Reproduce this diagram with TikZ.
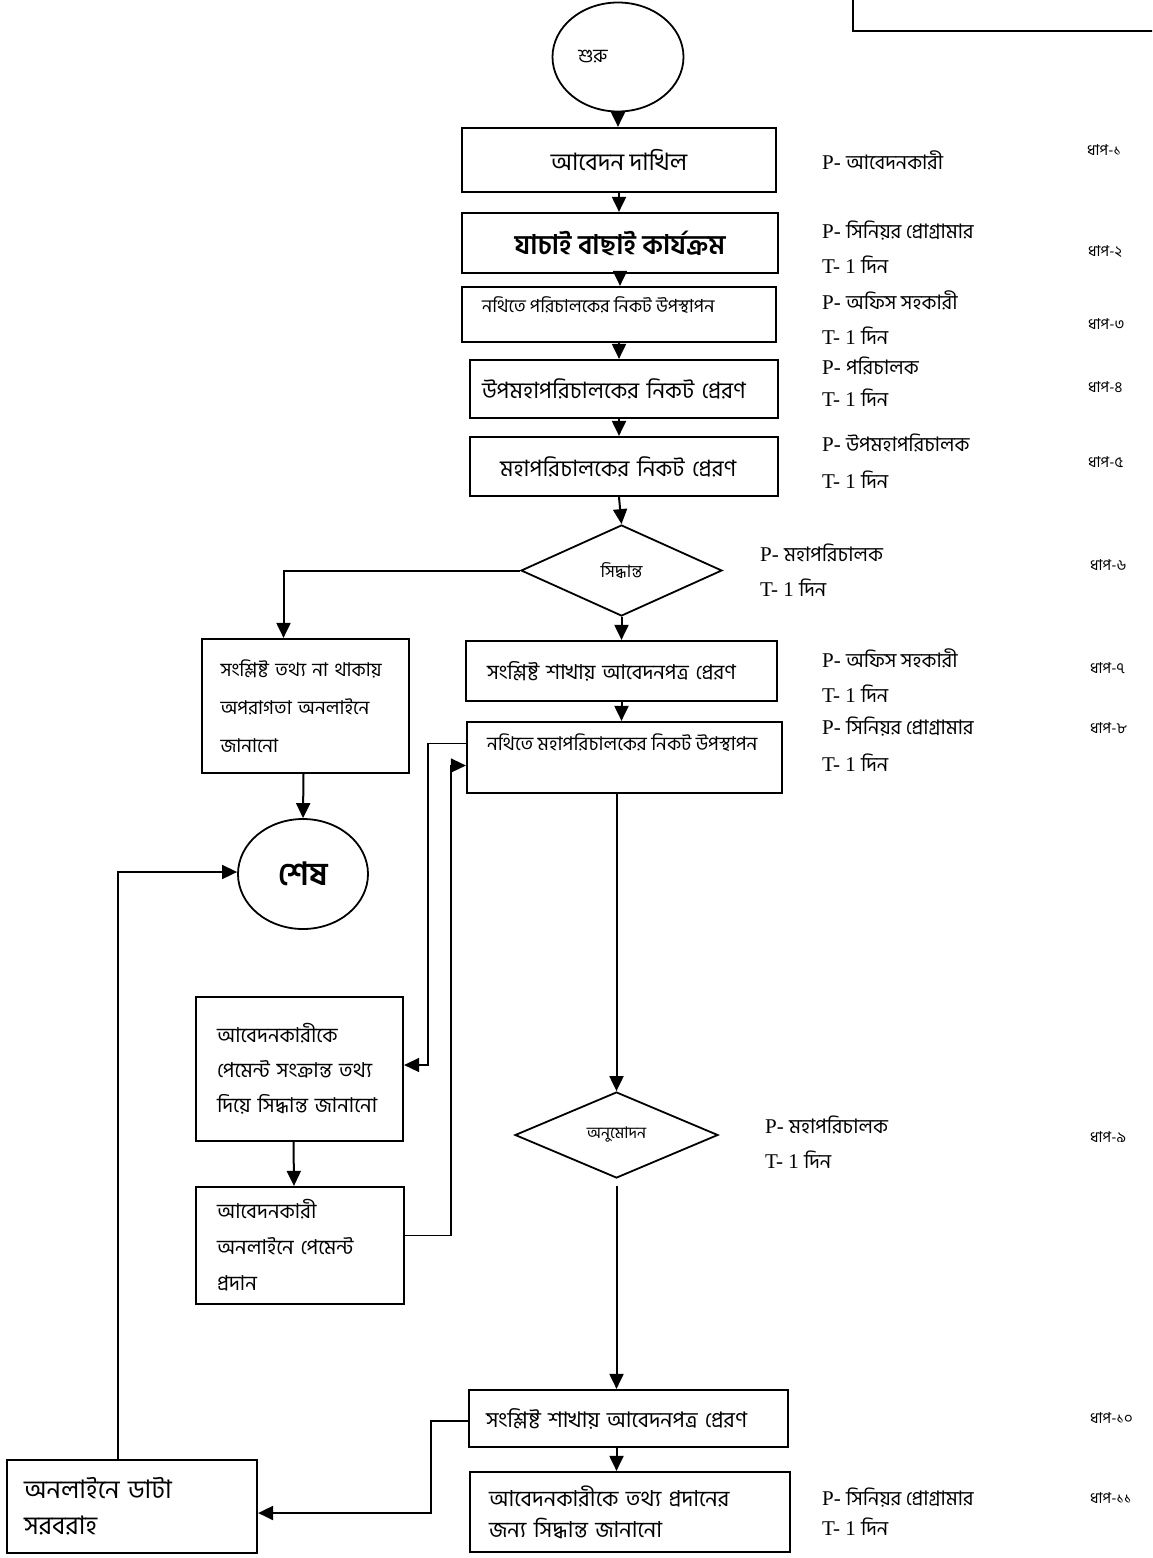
\documentclass[tikz,border=0pt]{standalone}
\usepackage{fontspec}
\setmainfont{Liberation Serif}
\newfontfamily\bn[Script=Bengali]{Hind Siliguri}
\usetikzlibrary{positioning}
\usetikzlibrary{shapes.geometric}
\usetikzlibrary{arrows.meta}

\newcommand{\rolename}[1]{{\bn\fontsize{20}{22}\selectfont #1}}

\begin{document}
\begin{tikzpicture}
[x=1pt,y=-1pt,
 box/.style={shape=rectangle,draw,line width=2.2pt,inner sep=0pt},
 ring/.style={shape=ellipse,draw,line width=1.8pt,inner sep=0pt},
 choice/.style={shape=diamond,draw,line width=1.8pt,inner sep=0pt},
 flow/.style={line width=2pt,-{Triangle[length=15pt,width=14pt]}},
 wire/.style={line width=1.6pt},
 txt/.style={inner sep=0pt,anchor=west},
 who/.style={inner sep=0pt,anchor=west,font=\fontsize{21}{23}\selectfont},
 stage/.style={inner sep=0pt,anchor=west,font=\bn\fontsize{15}{17}\selectfont}]

\path[use as bounding box] (0,0) rectangle (1152,1558);
\clip (0,0) rectangle (1152,1558);

% note box, cut at the page edge
\node (note) [box,minimum width=330,minimum height=60] at (1018,1) {};

% main column
\node (start) [ring,minimum width=131,minimum height=109] at (618,57) {};
\node (start-t) [inner sep=0pt,font=\bn\fontsize{19}{21}\selectfont] at (593,57) {শুরু};

\node (apply) [box,minimum width=314,minimum height=64,font=\bn\fontsize{24}{26}\selectfont]
	at (619,160) {আবেদন দাখিল};
\node (screen) [box,minimum width=316,minimum height=60,font=\bn\bfseries\fontsize{27}{29}\selectfont]
	at (620,243) {যাচাই বাছাই কার্যক্রম};
\node (present) [box,minimum width=314,minimum height=55] at (619,314.5) {};
\node (present-t) [txt,font=\bn\fontsize{18}{20}\selectfont] at (482,305) {নথিতে পরিচালকের নিকট উপস্থাপন};
\node (fwdddg) [box,minimum width=308,minimum height=58,inner xsep=12,text width=284,align=left,
	font=\bn\fontsize{22.5}{24}\selectfont]
	at (624,389) {উপমহাপরিচালকের নিকট প্রেরণ};
\node (fwddg) [box,minimum width=308,minimum height=59,inner xsep=30,text width=248,align=left,
	font=\bn\fontsize{22.5}{24}\selectfont]
	at (624,466.5) {মহাপরিচালকের নিকট প্রেরণ};
\node (decide) [choice,minimum width=201,minimum height=91,font=\bn\fontsize{17}{19}\selectfont]
	at (621.5,570.5) {সিদ্ধান্ত};
\node (branch) [box,minimum width=311,minimum height=60,inner xsep=21,text width=269,align=left,
	font=\bn\fontsize{20.5}{23}\selectfont]
	at (621.5,671) {সংশ্লিষ্ট শাখায় আবেদনপত্র প্রেরণ};
\node (present2) [box,minimum width=315,minimum height=71] at (624.5,757.5) {};
\node (present2-t) [txt,font=\bn\fontsize{19}{21}\selectfont] at (487,743) {নথিতে মহাপরিচালকের নিকট উপস্থাপন};
\node (approve) [choice,minimum width=203,minimum height=86,font=\bn\fontsize{16}{18}\selectfont]
	at (616.5,1135) {অনুমোদন};
\node (branch2) [box,minimum width=319,minimum height=57,inner xsep=17,text width=285,align=left,
	font=\bn\fontsize{21.5}{23}\selectfont]
	at (628.5,1418.5) {সংশ্লিষ্ট শাখায় আবেদনপত্র প্রেরণ};
\node (answer) [box,minimum width=320,minimum height=80,inner xsep=19,text width=282,align=left,
	font=\bn\fontsize{22}{31}\selectfont]
	at (630,1512) {আবেদনকারীকে তথ্য প্রদানের\\জন্য সিদ্ধান্ত জানানো};

% left column
\node (noinfo) [box,minimum width=207,minimum height=134,inner xsep=18.5,text width=170,align=left,
	font=\bn\fontsize{19}{38}\selectfont]
	at (305.5,706) {সংশ্লিষ্ট তথ্য না থাকায়\\অপরাগতা অনলাইনে\\জানানো};
\node (finish) [ring,minimum width=130,minimum height=110,font=\bn\bfseries\fontsize{32}{34}\selectfont]
	at (303,874) {শেষ};
\node (payinfo) [box,minimum width=207,minimum height=144,inner xsep=21,text width=165,align=left,
	font=\bn\fontsize{20.5}{35}\selectfont]
	at (299.5,1069) {আবেদনকারীকে\\পেমেন্ট সংক্রান্ত তথ্য\\দিয়ে সিদ্ধান্ত জানানো};
\node (paid) [box,minimum width=208,minimum height=117,inner xsep=21,text width=166,align=left,
	font=\bn\fontsize{20.5}{36}\selectfont]
	at (300,1245.5) {আবেদনকারী\\অনলাইনে পেমেন্ট\\প্রদান};
\node (supply) [box,minimum width=250,minimum height=93,inner xsep=17,text width=216,align=left,
	font=\bn\fontsize{25.5}{36}\selectfont]
	at (132,1506.5) {অনলাইনে ডাটা\\সরবরাহ};

% who does it, how long, which step
\node (p1) [who] at (822,160) {P- \rolename{আবেদনকারী}};
\node (s1) [stage] at (1087,150) {ধাপ-১};
\node (p2) [who] at (822,231) {P- \rolename{সিনিয়র প্রোগ্রামার}};
\node (t2) [who] at (822,265) {T- 1 \rolename{দিন}};
\node (s2) [stage] at (1088,252) {ধাপ-২};
\node (p3) [who] at (822,300) {P- \rolename{অফিস সহকারী}};
\node (t3) [who] at (822,336) {T- 1 \rolename{দিন}};
\node (s3) [stage] at (1088,324) {ধাপ-৩};
\node (p4) [who] at (822,366) {P- \rolename{পরিচালক}};
\node (t4) [who] at (822,398) {T- 1 \rolename{দিন}};
\node (s4) [stage] at (1088,387) {ধাপ-৪};
\node (p5) [who] at (822,443) {P- \rolename{উপমহাপরিচালক}};
\node (t5) [who] at (822,480) {T- 1 \rolename{দিন}};
\node (s5) [stage] at (1088,462) {ধাপ-৫};
\node (p6) [who] at (760,553) {P- \rolename{মহাপরিচালক}};
\node (t6) [who] at (760,588) {T- 1 \rolename{দিন}};
\node (s6) [stage] at (1090,565) {ধাপ-৬};
\node (p7) [who] at (822,658) {P- \rolename{অফিস সহকারী}};
\node (t7) [who] at (822,694) {T- 1 \rolename{দিন}};
\node (s7) [stage] at (1090,668) {ধাপ-৭};
\node (p8) [who] at (822,727) {P- \rolename{সিনিয়র প্রোগ্রামার}};
\node (t8) [who] at (822,763) {T- 1 \rolename{দিন}};
\node (s8) [stage] at (1090,728) {ধাপ-৮};
\node (p9) [who] at (765,1125) {P- \rolename{মহাপরিচালক}};
\node (t9) [who] at (765,1160) {T- 1 \rolename{দিন}};
\node (s9) [stage] at (1090,1137) {ধাপ-৯};
\node (s10) [stage] at (1090,1418) {ধাপ-১০};
\node (p11) [who] at (822,1498) {P- \rolename{সিনিয়র প্রোগ্রামার}};
\node (t11) [who] at (822,1527) {T- 1 \rolename{দিন}};
\node (s11) [stage] at (1090,1498) {ধাপ-১১};

% straight down
\draw [flow] (start.south) -- (start.south |- apply.north);
\draw [flow] (apply.south) -- (apply.south |- screen.north);
\draw [flow] (screen.south) -- (screen.south |- present.north);
\draw [flow] (present.south) -- (present.south |- fwdddg.north);
\draw [flow] (present.south |- fwdddg.south) -- (present.south |- fwddg.north);
\draw [flow] (present.south |- fwddg.south) -- (decide.north);
\draw [flow] (decide.south) -- (decide.south |- branch.north);
\draw [flow] (branch.south) -- (branch.south |- present2.north);
\draw [flow] (approve.north |- present2.south) -- (approve.north);
\draw [flow] ([yshift=-7pt]approve.south) -- (approve.south |- branch2.north);
\draw [flow] (approve.south |- branch2.south) -- (approve.south |- answer.north);

% left side
\draw [flow] (decide.west) -| ([xshift=-22pt]noinfo.north);
\draw [flow] ([xshift=-2pt]noinfo.south) -- (finish.north);
\draw [wire,-{Triangle[length=15pt,width=14pt]}] ([yshift=14pt]present2.west) -- ++(-38,0)
	|- ([yshift=4pt]payinfo.east);
\draw [flow] ([xshift=-6pt]payinfo.south) -- ([xshift=-6pt]paid.north);
\draw [wire,-{Triangle[length=15pt,width=14pt]}] ([yshift=10pt]paid.east) -- ++(46,0)
	|- ([yshift=-8pt]present2.west);
\draw [flow] ([yshift=-2.5pt]branch2.west) -- ++(-37,0) |- ([yshift=-6.5pt]supply.east);
\draw [wire,-{Triangle[length=15pt,width=14pt]}] ([xshift=-14pt]supply.north) |- ([yshift=2pt]finish.west);

\end{tikzpicture}
\end{document}
